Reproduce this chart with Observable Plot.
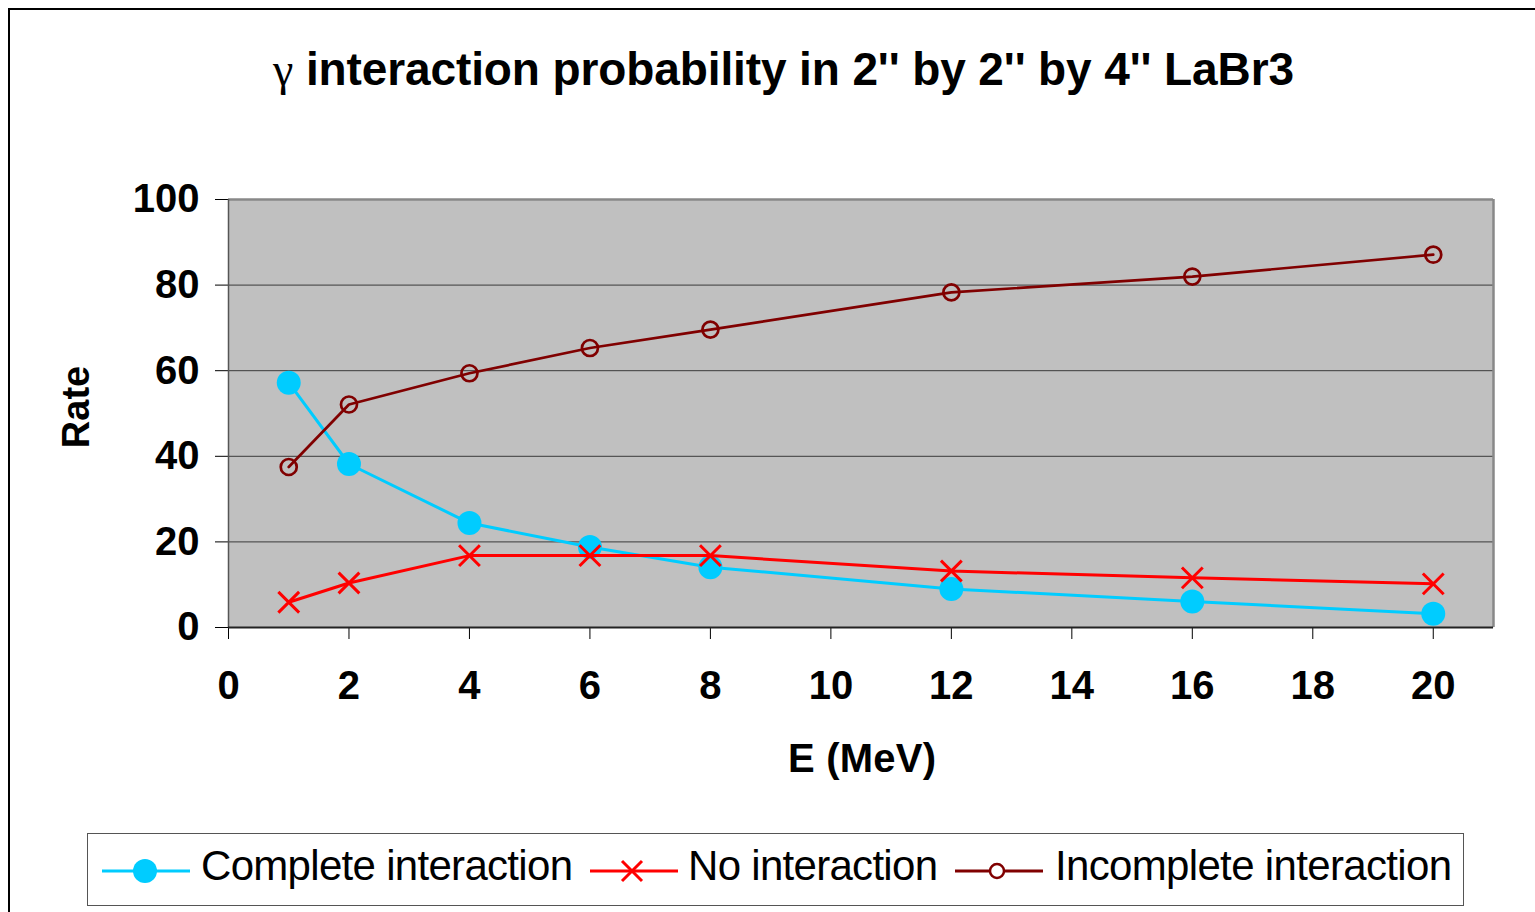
<!DOCTYPE html>
<html>
<head>
<meta charset="utf-8">
<script src="https://cdn.jsdelivr.net/npm/d3@7"></script>
<script src="https://cdn.jsdelivr.net/npm/@observablehq/plot@0.6"></script>
<style>
  html, body { margin: 0; padding: 0; background: #fff; }
  body { width: 1535px; height: 912px; position: relative; overflow: hidden; font-family: "Liberation Sans", Arial, sans-serif; }
  .abs { position: absolute; white-space: nowrap; line-height: 1; }
  #frame { position: absolute; left: 8px; top: 8px; width: 1600px; height: 1000px; border-left: 2px solid #000; border-top: 2px solid #000; box-sizing: border-box; }
  #title { left: 273px; top: 46px; font-size: 46px; font-weight: bold; }
  #title .g { font-family: "Liberation Serif", serif; font-weight: normal; }
  #xlabel { left: 788px; top: 738px; font-size: 40px; font-weight: bold; }
  #ylabel { left: 76px; top: 407px; font-size: 38px; font-weight: bold; transform: translate(-50%, -50%) rotate(-90deg); }
  #chart { position: absolute; left: 0; top: 150px; }
  #legend { position: absolute; left: 87px; top: 833px; width: 1377px; height: 73px; border: 1.5px solid #555; box-sizing: border-box; }
  .leg { font-size: 42px; font-weight: normal; top: 845px; }
  .sw { position: absolute; }
</style>
</head>
<body>
<div id="frame"></div>
<div id="title" class="abs"><span class="g">γ</span> interaction probability in 2'' by 2'' by 4'' LaBr3</div>
<div id="chart"></div>
<div id="ylabel" class="abs">Rate</div>
<div id="xlabel" class="abs">E (MeV)</div>
<div id="legend"></div>
<div id="legendItems"></div>
<script>
// ---- Data ----
const energies   = [1, 2, 4, 6, 8, 12, 16, 20];
const complete   = [57.2, 38.2, 24.4, 18.8, 14.1, 9.0, 6.1, 3.2];
const noInteract = [5.9, 10.4, 16.8, 16.8, 16.8, 13.2, 11.6, 10.2];
const incomplete = [37.5, 52.1, 59.4, 65.3, 69.6, 78.3, 82.0, 87.1];
const seriesNames = ["Complete interaction", "No interaction", "Incomplete interaction"];
const xTicks = [0, 2, 4, 6, 8, 10, 12, 14, 16, 18, 20];
const yTicks = [0, 20, 40, 60, 80, 100];
const gridVals = [20, 40, 60, 80];

const colors = { "Complete interaction": "#00CCFF", "No interaction": "#FF0000", "Incomplete interaction": "#800000" };
const seriesValues = [complete, noInteract, incomplete];
const rows = seriesNames.flatMap((name, k) => energies.map((e, i) => ({ E: e, rate: seriesValues[k][i], series: name })));
const bySeries = name => rows.filter(d => d.series === name);

const chart = Plot.plot({
  width: 1535,
  height: 650,
  marginLeft: 228,
  marginRight: 42,
  marginTop: 49,
  marginBottom: 173,
  style: { fontFamily: "Liberation Sans, Arial, sans-serif", fontSize: "40px", fontWeight: "bold", color: "#000", background: "transparent", overflow: "visible" },
  x: { domain: [0, 21], ticks: xTicks, tickSize: 12, tickPadding: 31, label: null, tickFormat: d => String(d) },
  y: { domain: [0, 100], ticks: yTicks, tickSize: 13, tickPadding: 16, label: null, tickFormat: d => String(d) },
  marks: [
    Plot.frame({ fill: "#c0c0c0", stroke: "none" }),
    Plot.ruleY(gridVals, { stroke: "#3a3a3a", strokeWidth: 1 }),
    Plot.ruleY([100], { stroke: "#888", strokeWidth: 2.5 }),
    Plot.ruleX([21], { stroke: "#888", strokeWidth: 2.5 }),
    Plot.ruleX([0], { stroke: "#555", strokeWidth: 1.5 }),
    Plot.ruleY([0], { stroke: "#222", strokeWidth: 2 }),
    // Complete interaction
    Plot.line(bySeries(seriesNames[0]), { x: "E", y: "rate", stroke: colors[seriesNames[0]], strokeWidth: 3 }),
    Plot.dot(bySeries(seriesNames[0]), { x: "E", y: "rate", r: 12, fill: colors[seriesNames[0]], stroke: "none" }),
    // No interaction
    Plot.line(bySeries(seriesNames[1]), { x: "E", y: "rate", stroke: colors[seriesNames[1]], strokeWidth: 3 }),
    Plot.dot(bySeries(seriesNames[1]), { x: "E", y: "rate", r: 9.5, symbol: "times", stroke: colors[seriesNames[1]], strokeWidth: 3 }),
    // Incomplete interaction
    Plot.line(bySeries(seriesNames[2]), { x: "E", y: "rate", stroke: colors[seriesNames[2]], strokeWidth: 2.7 }),
    Plot.dot(bySeries(seriesNames[2]), { x: "E", y: "rate", r: 8, fill: "none", stroke: colors[seriesNames[2]], strokeWidth: 2.7 })
  ]
});
document.getElementById("chart").appendChild(chart);

// ---- Legend ----
const legendLayout = [
  { lineX: 102, markX: 145, textX: 201, textW: 372 },
  { lineX: 590, markX: 632, textX: 688, textW: 250 },
  { lineX: 955, markX: 997, textX: 1055, textW: 397 }
];
const li = document.getElementById("legendItems");
seriesNames.forEach((name, k) => {
  const L = legendLayout[k];
  const c = colors[name];
  const svg = d3.create("svg").attr("class", "sw").attr("width", 90).attr("height", 30)
    .style("left", L.lineX + "px").style("top", "856px");
  svg.append("line").attr("x1", 0).attr("x2", 88).attr("y1", 15).attr("y2", 15).attr("stroke", c).attr("stroke-width", 3);
  const mx = L.markX - L.lineX;
  if (k === 0) svg.append("circle").attr("cx", mx).attr("cy", 15).attr("r", 12).attr("fill", c);
  if (k === 1) svg.append("path").attr("d", `M${mx-10},5L${mx+10},25M${mx-10},25L${mx+10},5`).attr("stroke", c).attr("stroke-width", 3);
  if (k === 2) svg.append("circle").attr("cx", mx).attr("cy", 15).attr("r", 7).attr("fill", "#fff").attr("stroke", c).attr("stroke-width", 2.5);
  li.appendChild(svg.node());
  const t = document.createElement("div");
  t.className = "abs leg";
  t.style.left = L.textX + "px";
  t.textContent = name;
  li.appendChild(t);
  fit(t, L.textW);
});

function fit(el, target) {
  el.style.letterSpacing = "0px";
  const w = el.getBoundingClientRect().width;
  const n = el.textContent.length;
  el.style.letterSpacing = ((target - w) / (n - 1)) + "px";
}
fit(document.getElementById("title"), 1021);
fit(document.getElementById("xlabel"), 148);
</script>
</body>
</html>
